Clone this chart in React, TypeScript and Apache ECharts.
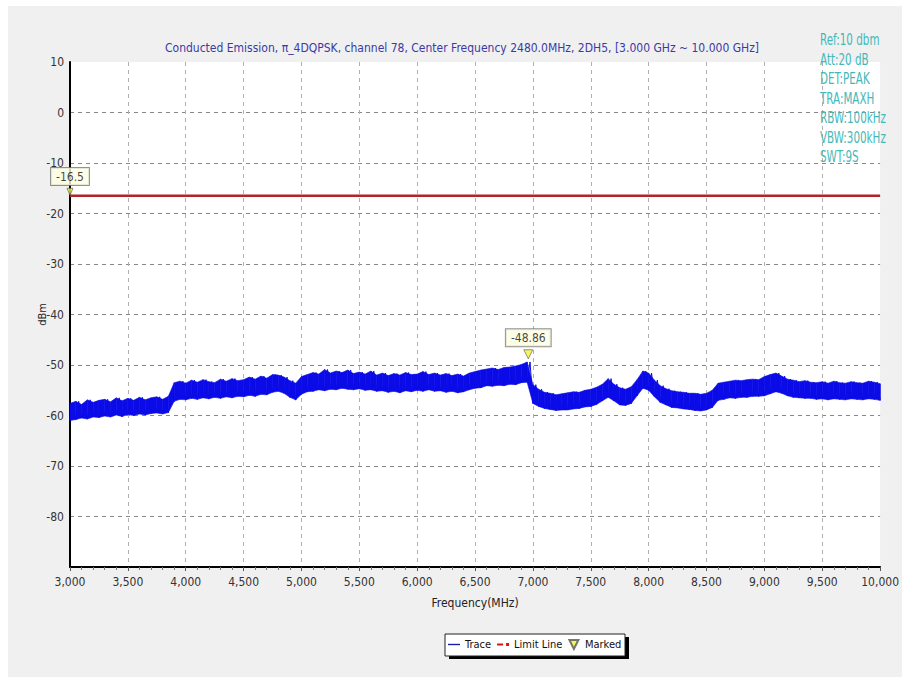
import { useEffect, useRef } from 'react';
import * as echarts from 'echarts';

const titleText =
  'Conducted Emission, π_4DQPSK, channel 78, Center Frequency 2480.0MHz, 2DH5, [3.000 GHz ~ 10.000 GHz]';
const settingsLines = ['Ref:10 dbm', 'Att:20 dB', 'DET:PEAK', 'TRA:MAXH', 'RBW:100kHz', 'VBW:300kHz', 'SWT:9S'];

const freqMinMHz = 3000;
const freqMaxMHz = 10000;
const freqTickMHz = 500;
const sweepStepMHz = 50;
const levelMin = -90;
const levelMax = 10;
const levelTick = 10;

// trace envelope, one value per 50 MHz from 3000 to 10000 MHz
const traceLower = [
  -61.0, -60.8, -60.5, -60.7, -60.3, -60.4, -60.1, -60.3, -59.9, -60.2,
  -59.8, -60.0, -59.7, -59.9, -59.6, -59.5, -59.7, -59.4, -57.2, -56.8,
  -56.9, -56.6, -56.8, -56.5, -56.7, -56.4, -56.6, -56.3, -56.5, -56.2,
  -56.3, -56.0, -56.2, -55.8, -55.9, -55.4, -55.2, -55.6, -56.4, -56.9,
  -55.8, -55.3, -55.2, -54.9, -55.1, -54.8, -54.9, -54.6, -54.8, -54.9,
  -54.7, -55.0, -54.9, -55.2, -55.1, -55.4, -55.2, -55.5, -55.1, -55.3,
  -55.0, -55.2, -54.9, -55.2, -55.1, -55.4, -55.2, -55.5, -55.3, -54.9,
  -54.6, -54.5, -54.1, -54.2, -54.0, -54.1, -53.8, -53.9, -53.5, -53.4,
  -57.6, -58.2, -58.6, -58.8, -59.0, -58.9, -58.9, -58.7, -58.6, -58.3,
  -58.2, -57.8, -57.1, -56.4, -57.1, -57.9, -58.0, -57.6, -56.1, -54.6,
  -55.0, -56.3, -57.4, -57.9, -58.4, -58.5, -58.7, -58.8, -59.0, -59.1,
  -58.9, -58.4, -57.0, -56.8, -56.5, -56.6, -56.4, -56.4, -56.2, -56.2,
  -56.1, -55.7, -55.3, -55.6, -56.1, -56.4, -56.5, -56.6, -56.6, -56.8,
  -56.7, -56.9, -56.7, -56.8, -56.9, -56.7, -56.8, -56.9, -56.7, -56.8, -57.0,
];
const traceUpper = [
  -57.6, -57.2, -57.8, -56.9, -57.4, -57.0, -56.8, -57.3, -56.5, -57.1,
  -56.6, -57.0, -56.4, -56.9, -56.5, -56.3, -56.8, -56.2, -53.5, -53.2,
  -53.6, -53.0, -53.4, -52.9, -53.3, -53.5, -52.8, -53.2, -52.7, -53.1,
  -52.9, -52.4, -52.8, -52.2, -52.6, -51.9, -52.0, -52.4, -53.1, -53.6,
  -52.3, -51.9, -51.5, -51.8, -50.9, -51.6, -51.2, -51.5, -51.0, -51.7,
  -51.4, -51.8, -51.2, -52.0, -51.6, -52.1, -51.7, -52.0, -51.5, -51.9,
  -51.8, -51.3, -51.9, -51.6, -52.0, -51.7, -52.1, -51.8, -52.2, -51.6,
  -51.3, -51.0, -50.8, -50.6, -50.9, -50.5, -50.4, -50.2, -49.9, -49.4,
  -53.9, -54.8, -55.4, -55.6, -55.9, -55.7, -55.5, -55.3, -55.4, -55.0,
  -54.8, -54.4, -53.8, -52.7, -53.8, -54.5, -54.8, -54.3, -52.9, -51.2,
  -51.6, -53.0, -54.1, -54.7, -55.1, -55.3, -55.4, -55.6, -55.6, -55.8,
  -55.6, -55.0, -53.6, -53.4, -53.2, -53.0, -53.1, -52.9, -52.8, -52.9,
  -52.3, -51.9, -51.6, -52.2, -52.8, -53.0, -53.3, -53.1, -53.4, -53.5,
  -53.3, -53.6, -53.2, -53.5, -53.6, -53.3, -53.5, -53.6, -53.2, -53.4, -53.7,
];

const limitLevel = -16.5;
const markedFreqs = [3000, 6960];
const markedLevels = [-16.5, -48.86];

const narrow = "'DejaVu Sans Condensed', 'Liberation Sans', sans-serif";
const traceBlue = '#0b0be8';

export default function App() {
  const ref = useRef<HTMLDivElement>(null);

  useEffect(() => {
    document.body.style.margin = '0';
    if (!ref.current) return;
    const chart = echarts.init(ref.current, undefined, { renderer: 'svg' });

    const traceData: number[][] = [];
    const bandSegments: number[][] = [];
    traceLower.forEach((lo, k) => {
      const f = freqMinMHz + k * sweepStepMHz;
      traceData.push([f, lo]);
      traceData.push([Math.min(f + sweepStepMHz / 2, freqMaxMHz), traceUpper[k]]);
      if (k + 1 < traceLower.length) {
        bandSegments.push([f, lo, traceUpper[k], f + sweepStepMHz, traceLower[k + 1], traceUpper[k + 1]]);
      }
    });
    const limitData = [
      [freqMinMHz, limitLevel],
      [freqMaxMHz, limitLevel],
    ];
    const markedData = markedFreqs.map((f, i) =>
      i === 0
        ? { value: [f, markedLevels[i]], symbolSize: [6, 7], symbolOffset: [0, -4] }
        : { value: [f, markedLevels[i]] }
    );

    chart.setOption({
      animation: false,
      title: {
        text: titleText,
        left: 160,
        top: 37,
        textStyle: { fontFamily: narrow, fontSize: 12, fontWeight: 'normal', color: '#3a3aa6' },
      },
      graphic: [
        {
          type: 'text',
          x: 820,
          y: 30,
          scaleX: 0.72,
          z: 20,
          style: {
            text: settingsLines.join('\n'),
            fontFamily: narrow,
            fontSize: 16,
            lineHeight: 19.5,
            fill: '#44b8b8',
            verticalAlign: 'top',
          },
        },
        { type: 'rect', silent: true, z: 0, shape: { x: 449, y: 637, width: 180, height: 22 }, style: { fill: '#000' } },
        {
          type: 'rect',
          silent: true,
          z: 1,
          shape: { x: 445, y: 634, width: 180, height: 22 },
          style: { fill: '#fff', stroke: '#222', lineWidth: 1 },
        },
      ],
      legend: {
        left: 448,
        top: 639,
        z: 10,
        padding: 0,
        itemGap: 6,
        itemWidth: 12,
        itemHeight: 9,
        textStyle: { fontFamily: narrow, fontSize: 11, color: '#111' },
        data: [
          { name: 'Trace', icon: 'path://M0,4 L14,4 L14,5.6 L0,5.6 Z' },
          { name: 'Limit Line', icon: 'path://M0,4 L6,4 L6,6 L0,6 Z M9,3.5 L12,3.5 L12,6.5 L9,6.5 Z' },
          { name: 'Marked', icon: 'path://M0,0 L10,0 L5,10 Z' },
        ],
      },
      grid: {
        left: 70,
        right: 14,
        top: 62,
        bottom: 114,
        show: true,
        backgroundColor: '#fff',
        borderWidth: 0,
      },
      xAxis: {
        type: 'value',
        min: freqMinMHz,
        max: freqMaxMHz,
        interval: freqTickMHz,
        name: 'Frequency(MHz)',
        nameLocation: 'middle',
        nameGap: 30,
        nameMoveOverlap: false,
        nameTextStyle: { fontFamily: narrow, fontSize: 12, color: '#222' },
        axisLine: { onZero: false, lineStyle: { color: '#000', width: 2 } },
        axisTick: { show: true, length: 4, lineStyle: { color: '#555' } },
        minorTick: { show: true, splitNumber: 5, length: 3, lineStyle: { color: '#777' } },
        axisLabel: {
          fontFamily: narrow,
          fontSize: 12,
          color: '#333',
          margin: 9,
          formatter: (v: number) => v.toLocaleString('en-US'),
        },
        splitLine: { show: true, showMinLine: false, showMaxLine: false, lineStyle: { color: '#b0b0b0', type: [4, 4] } },
      },
      yAxis: {
        type: 'value',
        min: levelMin,
        max: levelMax,
        interval: levelTick,
        name: 'dBm',
        nameLocation: 'middle',
        nameGap: 22,
        nameMoveOverlap: false,
        nameTextStyle: { fontFamily: narrow, fontSize: 11, color: '#222' },
        axisLine: { onZero: false, lineStyle: { color: '#000', width: 2 } },
        axisTick: { show: false },
        axisLabel: {
          fontFamily: narrow,
          fontSize: 12,
          color: '#333',
          margin: 6,
          formatter: (v: number) => (v === levelMin ? '' : String(v)),
        },
        splitLine: { show: true, showMinLine: false, showMaxLine: false, lineStyle: { color: '#888', type: [4, 4] } },
      },
      series: [
        {
          name: 'trace-band',
          type: 'custom',
          data: bandSegments,
          silent: true,
          z: 1,
          encode: { x: [0, 3], y: [1, 2, 4, 5] },
          renderItem: (_params: any, api: any) => {
            const a = api.coord([api.value(0), api.value(1)]);
            const b = api.coord([api.value(3), api.value(4)]);
            const c = api.coord([api.value(3), api.value(5)]);
            const d = api.coord([api.value(0), api.value(2)]);
            return {
              type: 'polygon',
              shape: { points: [a, b, c, d] },
              style: { fill: traceBlue, stroke: traceBlue, lineWidth: 0.6 },
            };
          },
        },
        {
          name: 'Trace',
          type: 'line',
          data: traceData,
          showSymbol: false,
          symbol: 'none',
          z: 2,
          itemStyle: { color: '#1a1aa8' },
          lineStyle: { color: traceBlue, width: 1 },
        },
        {
          name: 'Limit Line',
          type: 'line',
          data: limitData,
          showSymbol: false,
          symbol: 'none',
          z: 3,
          itemStyle: { color: '#d11' },
          lineStyle: { color: '#b3232b', width: 2.5 },
        },
        {
          name: 'Marked',
          type: 'scatter',
          data: markedData,
          z: 5,
          clip: false,
          symbol: 'path://M0,0 L10,0 L5,10 Z',
          symbolSize: [9, 9],
          symbolOffset: [0, -5],
          itemStyle: { color: '#f2f23c', borderColor: '#555', borderWidth: 0.8 },
          label: {
            show: true,
            position: 'top',
            distance: 3,
            formatter: (p: any) => String(p.value[1]),
            fontFamily: narrow,
            fontSize: 12,
            color: '#111',
            backgroundColor: '#ffffe4',
            borderColor: '#777',
            borderWidth: 1,
            padding: [3, 5, 2, 5],
          },
        },
      ],
    });

    return () => chart.dispose();
  }, []);

  return (
    <div style={{ position: 'relative', width: 902, height: 681, background: '#fff' }}>
      <div style={{ position: 'absolute', left: 8, top: 6, width: 894, height: 671, background: '#f0f0f0' }} />
      <div ref={ref} style={{ position: 'absolute', left: 0, top: 0, width: 902, height: 681 }} />
    </div>
  );
}
